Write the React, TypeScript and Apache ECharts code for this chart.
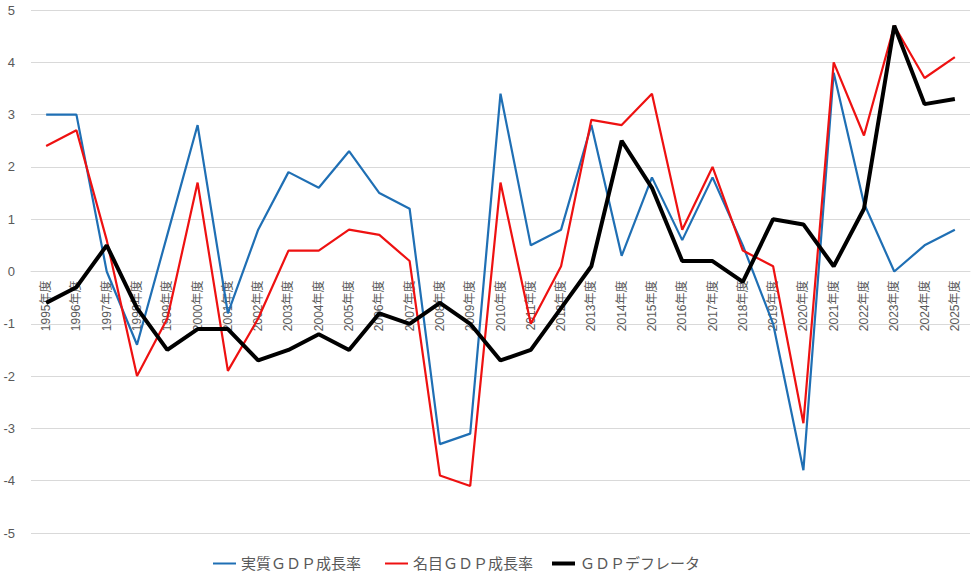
import React, { useEffect, useRef } from "react";
import * as echarts from "echarts";

const categories = [
  "1995年度", "1996年度", "1997年度", "1998年度", "1999年度", "2000年度", "2001年度", "2002年度",
  "2003年度", "2004年度", "2005年度", "2006年度", "2007年度", "2008年度", "2009年度", "2010年度",
  "2011年度", "2012年度", "2013年度", "2014年度", "2015年度", "2016年度", "2017年度", "2018年度",
  "2019年度", "2020年度", "2021年度", "2022年度", "2023年度", "2024年度", "2025年度",
];

const realGdp = [
  3.0, 3.0, 0.0, -1.4, 0.7, 2.8, -0.8, 0.8, 1.9, 1.6, 2.3, 1.5, 1.2, -3.3, -3.1, 3.4,
  0.5, 0.8, 2.8, 0.3, 1.8, 0.6, 1.8, 0.5, -1.0, -3.8, 3.8, 1.3, 0.0, 0.5, 0.8,
];

const nominalGdp = [
  2.4, 2.7, 0.6, -2.0, -0.9, 1.7, -1.9, -0.9, 0.4, 0.4, 0.8, 0.7, 0.2, -3.9, -4.1, 1.7,
  -1.0, 0.1, 2.9, 2.8, 3.4, 0.8, 2.0, 0.4, 0.1, -2.9, 4.0, 2.6, 4.7, 3.7, 4.1,
];

const deflator = [
  -0.6, -0.3, 0.5, -0.7, -1.5, -1.1, -1.1, -1.7, -1.5, -1.2, -1.5, -0.8, -1.0, -0.6, -1.0, -1.7,
  -1.5, -0.7, 0.1, 2.5, 1.6, 0.2, 0.2, -0.2, 1.0, 0.9, 0.1, 1.2, 4.7, 3.2, 3.3,
];

const seriesNames = ["実質ＧＤＰ成長率", "名目ＧＤＰ成長率", "ＧＤＰデフレータ"];
const seriesColors = ["#1f6fb4", "#ee1111", "#000000"];

const FONT = "'Liberation Sans', 'Noto Sans CJK JP', sans-serif";

const GRID_TOP = 10;
const GRID_BOTTOM = 49;
const CHART_H = 582;
const Y_MIN = -5;
const Y_MAX = 5;

export default function App() {
  const ref = useRef<HTMLDivElement>(null);

  useEffect(() => {
    if (!ref.current) return;
    const chart = echarts.init(ref.current, undefined, { renderer: "svg" });
    const plotH = CHART_H - GRID_TOP - GRID_BOTTOM;
    const zeroOffset = -plotH * (0 - Y_MIN) / (Y_MAX - Y_MIN);
    const legendLefts = [208, 380, 547];
    const legendHeights = [2, 2, 4];
    chart.setOption({
      animation: false,
      backgroundColor: "#ffffff",
      grid: {
        left: 31,
        right: 6,
        top: GRID_TOP,
        bottom: GRID_BOTTOM,
        containLabel: false,
        outerBoundsMode: "none",
      },
      legend: seriesNames.map((name, i) => ({
        top: 551,
        left: legendLefts[i],
        itemWidth: 23,
        itemHeight: legendHeights[i],
        icon: "rect",
        textStyle: { color: "#595959", fontSize: 15, fontFamily: FONT },
        data: [{ name, icon: "rect", itemStyle: { color: seriesColors[i] } }],
      })),
      xAxis: {
        type: "category",
        data: categories,
        boundaryGap: true,
        position: "bottom",
        offset: zeroOffset,
        axisLine: {
          show: true,
          onZero: false,
          lineStyle: { color: "#d9d9d9", width: 1 },
        },
        axisTick: { show: false },
        axisLabel: {
          rotate: 90,
          interval: 0,
          margin: 9,
          color: "#595959",
          fontSize: 12,
          fontFamily: FONT,
        },
        splitLine: { show: false },
      },
      yAxis: {
        type: "value",
        min: Y_MIN,
        max: Y_MAX,
        interval: 1,
        axisLine: { show: false, onZero: false },
        axisTick: { show: false },
        axisLabel: { color: "#595959", fontSize: 13, margin: 16, fontFamily: FONT },
        splitLine: { lineStyle: { color: "#d9d9d9", width: 1 } },
      },
      series: [
        {
          name: seriesNames[0],
          type: "line",
          data: realGdp,
          symbol: "none",
          lineStyle: { color: seriesColors[0], width: 2.2 },
          itemStyle: { color: seriesColors[0] },
          z: 2,
        },
        {
          name: seriesNames[1],
          type: "line",
          data: nominalGdp,
          symbol: "none",
          lineStyle: { color: seriesColors[1], width: 2.2 },
          itemStyle: { color: seriesColors[1] },
          z: 3,
        },
        {
          name: seriesNames[2],
          type: "line",
          data: deflator,
          symbol: "none",
          lineStyle: { color: seriesColors[2], width: 4 },
          itemStyle: { color: seriesColors[2] },
          z: 4,
        },
      ],
    });
    return () => chart.dispose();
  }, []);

  return (
    <div
      ref={ref}
      style={{ position: "fixed", left: 0, top: 0, width: 976, height: 582, background: "#fff" }}
    />
  );
}
